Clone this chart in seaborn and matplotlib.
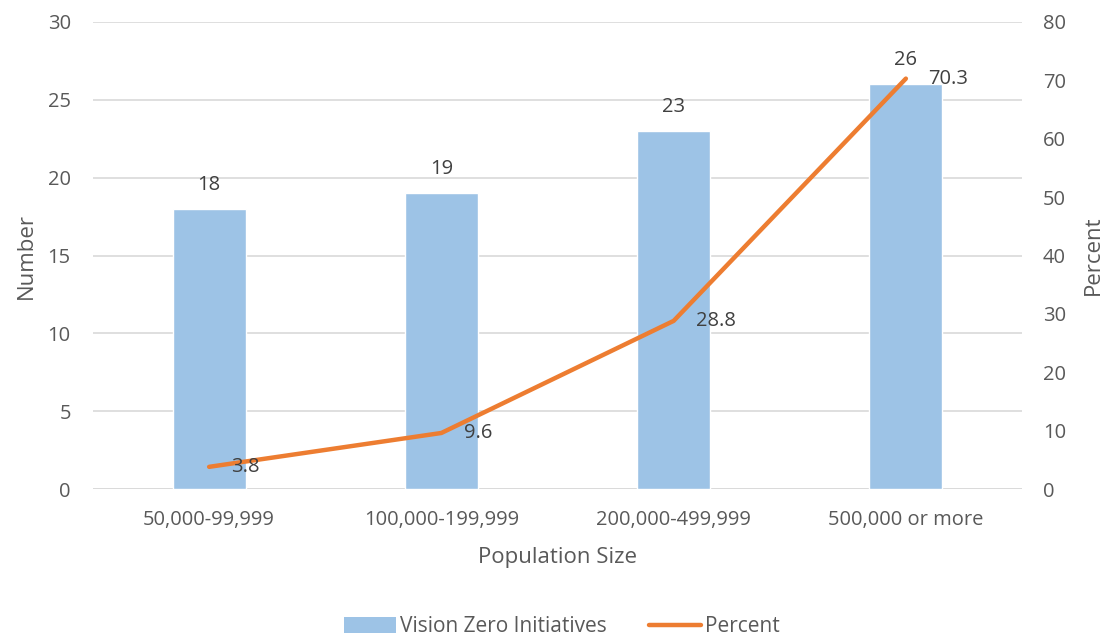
import numpy as np
import pandas as pd
import matplotlib
matplotlib.use("Agg")
import matplotlib.pyplot as plt
import seaborn as sns
from matplotlib.patches import Patch
from matplotlib.lines import Line2D

categories = ["50,000-99,999", "100,000-199,999", "200,000-499,999", "500,000 or more"]
initiatives = [18, 19, 23, 26]
percent = [3.8, 9.6, 28.8, 70.3]
left_ticks = [0, 5, 10, 15, 20, 25, 30]
right_ticks = [0, 10, 20, 30, 40, 50, 60, 70, 80]

sns.set_theme(style="white")
plt.rcParams["font.family"] = ["Open Sans", "DejaVu Sans"]

TXT = "#595959"
BAR = "#9DC3E6"
LINE = "#ED7D31"
GRID = "#D9D9D9"
FS = 14.5

fig = plt.figure(figsize=(11.02, 6.37), dpi=100)
ax = fig.add_axes([0.0844, 0.2323, 0.843, 0.7332])

df = pd.DataFrame({"cat": categories, "num": initiatives, "pct": percent})
sns.barplot(data=df, x="cat", y="num", color=BAR, width=0.315, ax=ax, saturation=1)
ax.set_ylim(0, 30)
ax.set_yticks(left_ticks)
ax.set_xlim(-0.5, len(categories) - 0.5)
ax.yaxis.grid(True, color=GRID, linewidth=1.2)
ax.set_axisbelow(True)
for s in ax.spines.values():
    s.set_visible(False)
ax.axhline(0, color=GRID, linewidth=1.2, zorder=0)
ax.tick_params(axis="x", colors=TXT, labelsize=FS, length=0, pad=15)
ax.tick_params(axis="y", colors=TXT, labelsize=FS, length=0, pad=16)
ax.set_xlabel("Population Size", color=TXT, fontsize=16, labelpad=12)
ax.set_ylabel("Number", color=TXT, fontsize=16, labelpad=8)

for i, v in enumerate(initiatives):
    ax.annotate(str(v), (i, v), xytext=(0, 10), textcoords="offset points",
                ha="center", va="bottom", color="#404040", fontsize=FS)

ax2 = ax.twinx()
xpos = np.arange(len(categories))
sns.lineplot(x=xpos, y=percent, ax=ax2, color=LINE, linewidth=3.2, sort=False,
             solid_capstyle="round")
ax2.set_ylim(0, 80)
ax2.set_yticks(right_ticks)
ax2.set_xlim(-0.5, len(categories) - 0.5)
for s in ax2.spines.values():
    s.set_visible(False)
ax2.tick_params(axis="y", colors=TXT, labelsize=FS, length=0, pad=15)
ax2.set_ylabel("Percent", color=TXT, fontsize=16, labelpad=12)
ax2.grid(False)

for i, v in enumerate(percent):
    ax2.annotate(f"{v}", (i, v), xytext=(16, 0), textcoords="offset points",
                 ha="left", va="center", color="#404040", fontsize=FS)

handles = [Patch(facecolor=BAR, edgecolor="none"),
           Line2D([0], [0], color=LINE, linewidth=3.2)]
fig.legend(handles, ["Vision Zero Initiatives", "Percent"], loc="lower center",
           bbox_to_anchor=(0.51, -0.03), ncol=2, frameon=False, fontsize=15,
           handlelength=2.5, handleheight=0.8, columnspacing=2.0, handletextpad=0.2,
           labelcolor=TXT)

fig.savefig("out.png", dpi=100)
